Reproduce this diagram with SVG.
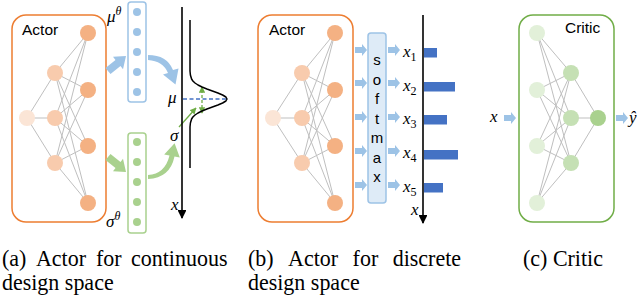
<svg xmlns="http://www.w3.org/2000/svg" xmlns:xlink="http://www.w3.org/1999/xlink" width="640" height="300" viewBox="0 0 640 300">
<style>
.edge{stroke:#BFBFBF;stroke-width:1;fill:none}
.box-o{fill:#fff;stroke:#ED7D31;stroke-width:1.5}
.box-g{fill:#fff;stroke:#70AD47;stroke-width:1.5}
.o1{fill:#FBE5D6}.o2{fill:#F8CBAD}.o3{fill:#F4B183}
.g1{fill:#E2F0D9}.g2{fill:#C5E0B4}.g3{fill:#A9D18E}
.sans{font-family:"Liberation Sans",Arial,sans-serif;fill:#000}
.math{font-family:"Liberation Serif","Times New Roman",serif;font-style:italic;fill:#000}
.sub{font-style:normal;font-size:12px}
.cap{font-family:"Liberation Serif","Times New Roman",serif;font-size:23.4px;fill:#000}
.axis{stroke:#000;stroke-width:1.6;fill:none}
.lb{fill:#9DC3E6}
.bar{fill:#4472C4}
</style>
<defs>
<marker id="axh" viewBox="0 0 10 10" refX="9" refY="5" markerWidth="5.5" markerHeight="5.5" orient="auto" markerUnits="strokeWidth"><path d="M0,0 L10,5 L0,10 Z" fill="#000"/></marker>
<marker id="gh" viewBox="0 0 10 10" refX="9" refY="5" markerWidth="5" markerHeight="5" orient="auto" markerUnits="strokeWidth"><path d="M0,0 L10,5 L0,10 Z" fill="#70AD47"/></marker>
<path id="blk" d="M0,-3 H7 V-6 L12,0 L7,6 V3 H0 Z"/>
</defs>

<!-- ===== Panel (a) ===== -->
<g id="actor-a">
<rect class="box-o" x="12" y="15" width="94" height="207" rx="14"/>
<text class="sans" x="22" y="35" font-size="15.5">Actor</text>
</g>
<g id="connectors">
<path class="edge" d="M27,118 L55,73 M27,118 L55,118 M27,118 L55,163
M55,73 L88,33 M55,73 L88,90 M55,73 L88,146 M55,73 L88,203
M55,118 L88,33 M55,118 L88,90 M55,118 L88,146 M55,118 L88,203
M55,163 L88,33 M55,163 L88,90 M55,163 L88,146 M55,163 L88,203"/>
<path class="edge" d="M273,118 L302,73 M273,118 L302,118 M273,118 L302,163
M302,73 L335,33 M302,73 L335,90 M302,73 L335,146 M302,73 L335,203
M302,118 L335,33 M302,118 L335,90 M302,118 L335,146 M302,118 L335,203
M302,163 L335,33 M302,163 L335,90 M302,163 L335,146 M302,163 L335,203"/>
<path class="edge" d="M537,33 L571,73 M537,33 L571,118 M537,33 L571,163
M537,90 L571,73 M537,90 L571,118 M537,90 L571,163
M537,146 L571,73 M537,146 L571,118 M537,146 L571,163
M537,203 L571,73 M537,203 L571,118 M537,203 L571,163
M571,73 L598,118 M571,118 L598,118 M571,163 L598,118"/>
<path fill="#9DC3E6" d="M110.5,74.1 L105.5,67.9 L115.5,59.9 L113,56.7 L126,56 L123,69.3 L120.5,66.1 Z"/>
<path fill="#A9D18E" d="M110.5,153.9 L105.5,160.1 L115.5,168.1 L113,171.3 L126,172 L123,158.7 L120.5,161.9 Z"/>
<path fill="#9DC3E6" d="M148,55 Q167,55 173,70 L178.5,68.5 L175.5,84.5 L163,74.5 L168,73 Q163,61 148,60 Z"/>
<path fill="#A9D18E" d="M148,179 Q170,178 174.5,156.5 L179.8,157.6 L174.6,143.3 L164.2,154.4 L169.5,155.5 Q165,174 148,175 Z"/>
<line x1="179" y1="127" x2="196" y2="108" stroke="#70AD47" stroke-width="1.3" marker-end="url(#gh)"/>
<line x1="202" y1="98" x2="202" y2="87" stroke="#70AD47" stroke-width="1.3" stroke-dasharray="3,2" marker-end="url(#gh)"/>
<line x1="202" y1="100" x2="202" y2="113" stroke="#70AD47" stroke-width="1.3" stroke-dasharray="3,2" marker-end="url(#gh)"/>
<g class="lb">
<use xlink:href="#blk" x="355" y="50"/><use xlink:href="#blk" x="355" y="83"/><use xlink:href="#blk" x="355" y="117"/><use xlink:href="#blk" x="355" y="151"/><use xlink:href="#blk" x="355" y="185"/>
<use xlink:href="#blk" x="388" y="50"/><use xlink:href="#blk" x="388" y="83"/><use xlink:href="#blk" x="388" y="117"/><use xlink:href="#blk" x="388" y="151"/><use xlink:href="#blk" x="388" y="185"/>
<use xlink:href="#blk" x="504" y="118"/><use xlink:href="#blk" x="616" y="118"/>
</g>
</g>

<g id="nn-a">
<circle class="o1" cx="27" cy="118" r="8"/>
<circle class="o2" cx="55" cy="73" r="8"/><circle class="o2" cx="55" cy="118" r="8"/><circle class="o2" cx="55" cy="163" r="8"/>
<circle class="o3" cx="88" cy="33" r="8"/><circle class="o3" cx="88" cy="90" r="8"/><circle class="o3" cx="88" cy="146" r="8"/><circle class="o3" cx="88" cy="203" r="8"/>
</g>

<g id="mu-theta">
<rect x="128" y="2" width="18" height="100" rx="3" fill="#fff" stroke="#9DC3E6" stroke-width="1.5"/>
<g class="lb"><circle cx="137" cy="12" r="4"/><circle cx="137" cy="32" r="4"/><circle cx="137" cy="52" r="4"/><circle cx="137" cy="72" r="4"/><circle cx="137" cy="92" r="4"/></g>
<text class="math" x="107" y="22" font-size="17">μ<tspan font-size="12" dy="-7">θ</tspan></text>
</g>

<g id="sigma-theta">
<rect x="128" y="133" width="18" height="100" rx="3" fill="#fff" stroke="#A9D18E" stroke-width="1.5"/>
<g class="g3"><circle cx="137" cy="142" r="4"/><circle cx="137" cy="162" r="4"/><circle cx="137" cy="182" r="4"/><circle cx="137" cy="202" r="4"/><circle cx="137" cy="222" r="4"/></g>
<text class="math" x="106" y="227" font-size="17">σ<tspan font-size="12" dy="-7">θ</tspan></text>
</g>

<g id="distribution">
<line class="axis" x1="182" y1="7" x2="182" y2="218" marker-end="url(#axh)"/>
<path d="M190,20 L190,71 L190.4,75 L191.6,79 L192.9,81 L195,83 L198,85 L202,87 L206.9,89 L212.4,91 L217.9,93 L222.6,95 L225.9,97 L227,99 L225.9,101 L222.6,103 L217.9,105 L212.4,107 L206.9,109 L202,111 L198,113 L195,115 L192.9,117 L191.6,119 L190.4,123 L190,127 L190,168" fill="none" stroke="#000" stroke-width="1.5" stroke-linejoin="round"/>
<line x1="183" y1="99" x2="228" y2="99" stroke="#4472C4" stroke-width="1.3" stroke-dasharray="4,2.5"/>
<text class="math" x="168" y="103" font-size="17">μ</text>
<text class="math" x="170" y="141" font-size="17">σ</text>
<text class="math" x="171" y="210" font-size="17">x</text>
</g>

<!-- ===== Panel (b) ===== -->
<g id="actor-b">
<rect class="box-o" x="258" y="15" width="95" height="207" rx="14" fill-opacity="0"/>
<text class="sans" x="269" y="35" font-size="15.5">Actor</text>
</g>
<g id="nn-b">
<circle class="o1" cx="273" cy="118" r="8"/>
<circle class="o2" cx="302" cy="73" r="8"/><circle class="o2" cx="302" cy="118" r="8"/><circle class="o2" cx="302" cy="163" r="8"/>
<circle class="o3" cx="335" cy="33" r="8"/><circle class="o3" cx="335" cy="90" r="8"/><circle class="o3" cx="335" cy="146" r="8"/><circle class="o3" cx="335" cy="203" r="8"/>
</g>
<g id="softmax">
<rect x="368" y="33" width="18" height="170" rx="3" fill="#DEEBF7" stroke="#9DC3E6" stroke-width="1.5"/>
<g class="sans" font-size="15" text-anchor="middle">
<text x="377" y="65">s</text><text x="377" y="84.5">o</text><text x="377" y="104">f</text><text x="377" y="123.5">t</text><text x="377" y="143">m</text><text x="377" y="162.5">a</text><text x="377" y="182">x</text>
</g>
</g>
<g id="outputs-b">
<text class="math" x="403" y="57" font-size="17">x<tspan class="sub" dy="4">1</tspan></text>
<text class="math" x="403" y="91" font-size="17">x<tspan class="sub" dy="4">2</tspan></text>
<text class="math" x="403" y="124" font-size="17">x<tspan class="sub" dy="4">3</tspan></text>
<text class="math" x="403" y="158" font-size="17">x<tspan class="sub" dy="4">4</tspan></text>
<text class="math" x="403" y="192" font-size="17">x<tspan class="sub" dy="4">5</tspan></text>
<line class="axis" x1="423" y1="15" x2="423" y2="223" marker-end="url(#axh)"/>
<rect class="bar" x="424" y="48" width="13" height="9.5"/>
<rect class="bar" x="424" y="82" width="31" height="9.5"/>
<rect class="bar" x="424" y="115" width="23" height="9.5"/>
<rect class="bar" x="424" y="150" width="34" height="9.5"/>
<rect class="bar" x="424" y="183" width="19" height="9.5"/>
<text class="math" x="411" y="215" font-size="17">x</text>
</g>

<!-- ===== Panel (c) ===== -->
<g id="critic">
<rect class="box-g" x="519" y="15" width="95" height="207" rx="14" fill-opacity="0"/>
<text class="sans" x="565" y="33" font-size="15.5">Critic</text>
</g>
<g id="nn-c">
<circle class="g1" cx="537" cy="33" r="8"/><circle class="g1" cx="537" cy="90" r="8"/><circle class="g1" cx="537" cy="146" r="8"/><circle class="g1" cx="537" cy="203" r="8"/>
<circle class="g2" cx="571" cy="73" r="8"/><circle class="g2" cx="571" cy="118" r="8"/><circle class="g2" cx="571" cy="163" r="8"/>
<circle class="g3" cx="598" cy="118" r="8"/>
</g>
<g id="io-c">
<text class="math" x="490" y="122" font-size="17">x</text>
<text class="math" x="629" y="123" font-size="17">ŷ</text>
</g>

<!-- captions -->
<g id="captions" class="cap" transform="scale(0.94,1)">
<text x="2.1" y="266">(a)</text><text x="38.3" y="266">Actor</text><text x="102.1" y="266">for</text><text x="139.4" y="266">continuous</text>
<text x="2.1" y="290">design space</text>
<text x="263.8" y="266">(b)</text><text x="306.4" y="266">Actor</text><text x="375.1" y="266">for</text><text x="417.8" y="266">discrete</text>
<text x="263.8" y="290">design space</text>
<text x="556.4" y="266">(c) Critic</text>
</g>
</svg>
